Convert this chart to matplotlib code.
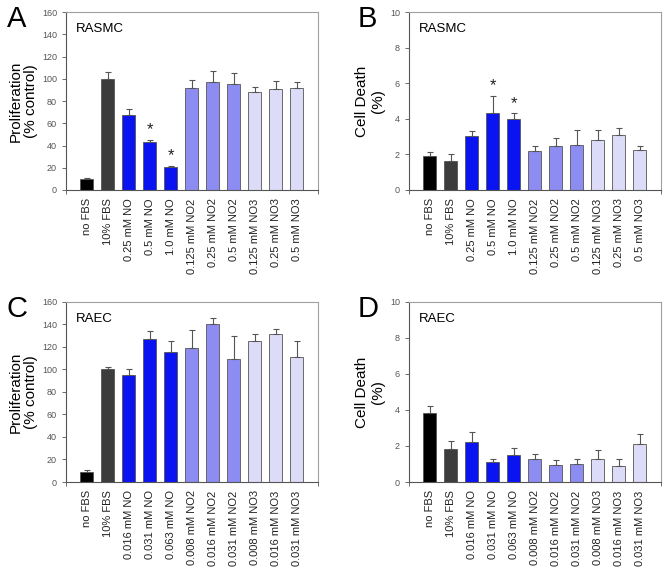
import numpy as np
import matplotlib
matplotlib.use("Agg")
import matplotlib.pyplot as plt

plt.rcParams['font.family'] = ['Liberation Sans', 'DejaVu Sans']

# data #
labels_smc = ["no FBS", "10% FBS", "0.25 mM NO", "0.5 mM NO", "1.0 mM NO",
              "0.125 mM NO2", "0.25 mM NO2", "0.5 mM NO2",
              "0.125 mM NO3", "0.25 mM NO3", "0.5 mM NO3"]
labels_ec = ["no FBS", "10% FBS", "0.016 mM NO", "0.031 mM NO", "0.063 mM NO",
             "0.008 mM NO2", "0.016 mM NO2", "0.031 mM NO2",
             "0.008 mM NO3", "0.016 mM NO3", "0.031 mM NO3"]

prolif_smc = [10, 100, 67, 43, 21, 92, 97, 95, 88, 91, 92]
prolif_smc_err = [1, 6, 6, 2, 1, 7, 10, 10, 5, 7, 5]
death_smc = [1.9, 1.65, 3.05, 4.35, 4.0, 2.2, 2.45, 2.55, 2.8, 3.1, 2.25]
death_smc_err = [0.25, 0.35, 0.25, 0.95, 0.3, 0.3, 0.45, 0.8, 0.55, 0.4, 0.25]

prolif_ec = [9, 100, 95, 127, 115, 119, 140, 109, 125, 131, 111]
prolif_ec_err = [2, 2, 5, 7, 10, 16, 6, 21, 6, 5, 14]
death_ec = [3.85, 1.85, 2.2, 1.1, 1.5, 1.3, 0.95, 1.0, 1.3, 0.9, 2.1]
death_ec_err = [0.35, 0.4, 0.55, 0.2, 0.4, 0.25, 0.25, 0.3, 0.5, 0.4, 0.55]

star_smc = [3, 4]

colors = ["#000000", "#3c3c3c", "#0a14f0", "#0a14f0", "#0a14f0",
          "#8c8cf2", "#8c8cf2", "#8c8cf2", "#dcdcf8", "#dcdcf8", "#dcdcf8"]

fig = plt.figure(figsize=(6.71, 5.74), dpi=100)

W = 0.375
H = 0.31
boxes = {
    "A": [66 / 671, 1 - 190 / 574, W, H],
    "B": [409 / 671, 1 - 190 / 574, W, H],
    "C": [66 / 671, 1 - 482 / 574, W, 0.314],
    "D": [409 / 671, 1 - 482 / 574, W, 0.314],
}
# panel letter positions (px from left, px from top)
letters = {"A": (7, 5), "B": (358, 5), "C": (7, 295), "D": (358, 295)}


def panel(key, labels, vals, errs, ymax, ystep, ylabel, cell, stars, labx):
    ax = fig.add_axes(boxes[key])
    x = np.arange(len(vals))
    ax.bar(x, vals, width=0.62, color=colors, edgecolor="#555555", linewidth=0.6,
           yerr=[np.zeros(len(errs)), errs], capsize=2.5,
           error_kw=dict(ecolor="#555555", elinewidth=0.8, capthick=0.8))
    for i in stars:
        ax.text(x[i], vals[i] + errs[i] + ymax * 0.015, "*", ha="center", va="bottom",
                fontsize=12, color="#222222")
    ax.set_xlim(-1, 11)
    ax.set_ylim(0, ymax)
    ax.set_yticks(np.arange(0, ymax + ystep / 2, ystep))
    ax.set_xticks(x)
    ax.set_xticklabels(labels, rotation=90, fontsize=8, color="#222222")
    ax.set_xticks([-1, 11], minor=True)
    ax.tick_params(axis="x", which="major", length=0, pad=6)
    ax.tick_params(axis="x", which="minor", length=3, color="#555555", direction="out")
    ax.tick_params(axis="y", labelsize=6.5, labelcolor="#555555", length=3,
                   color="#555555", width=0.6, direction="out")
    for s in ["top", "right"]:
        ax.spines[s].set_color("#a0a0a0")
        ax.spines[s].set_linewidth(0.8)
    for s in ["left", "bottom"]:
        ax.spines[s].set_color("#555555")
        ax.spines[s].set_linewidth(0.8)
    ax.set_ylabel(ylabel, fontsize=11, linespacing=1.1)
    ax.yaxis.set_label_coords(labx, 0.5)
    ax.text(0.04, 0.94, cell, transform=ax.transAxes, fontsize=9.5, va="top", ha="left")
    lx, ly = letters[key]
    fig.text(lx / 671, 1 - ly / 574, key, fontsize=21, va="top", ha="left")
    return ax


panel("A", labels_smc, prolif_smc, prolif_smc_err, 160, 20,
      "Proliferation\n(% control)", "RASMC", star_smc, -0.11)
panel("B", labels_smc, death_smc, death_smc_err, 10, 2,
      "Cell Death\n(%)", "RASMC", star_smc, -0.097)
panel("C", labels_ec, prolif_ec, prolif_ec_err, 160, 20,
      "Proliferation\n(% control)", "RAEC", [], -0.11)
panel("D", labels_ec, death_ec, death_ec_err, 10, 2,
      "Cell Death\n(%)", "RAEC", [], -0.097)

fig.savefig("out.png")
